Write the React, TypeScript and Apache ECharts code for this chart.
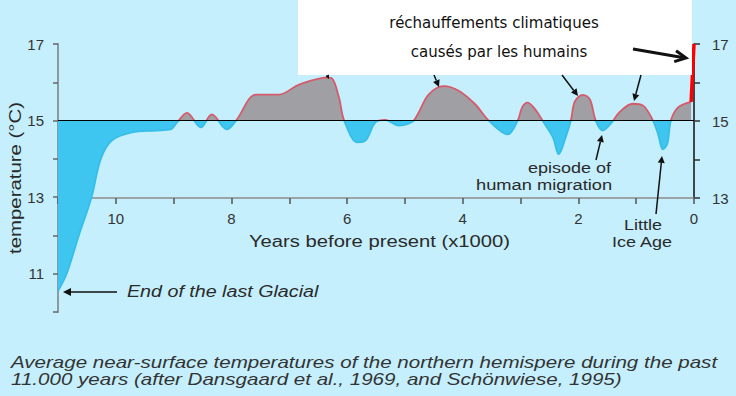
import { useEffect, useRef } from 'react';
import * as echarts from 'echarts';

// Years before present (x1000) and temperature (°C)
const years = [11.0, 10.85, 10.64, 10.42, 10.26, 10.07, 9.72, 9.31, 9.05, 8.94, 8.77, 8.53, 8.34, 8.08, 7.92, 7.57, 7.18, 6.83, 6.34, 6.26, 6.14, 6.05, 5.82, 5.68, 5.51, 5.34, 5.11, 4.87, 4.78, 4.59, 4.33, 4.07, 3.78, 3.55, 3.22, 3.05, 2.97, 2.88, 2.75, 2.62, 2.44, 2.34, 2.22, 2.13, 2.06, 1.92, 1.8, 1.7, 1.58, 1.42, 1.3, 1.06, 0.88, 0.71, 0.62, 0.54, 0.46, 0.4, 0.28, 0.05];
const temps = [10.55, 11.0, 12.0, 13.0, 14.0, 14.48, 14.69, 14.74, 14.77, 14.95, 15.2, 14.82, 15.16, 14.77, 15.0, 15.68, 15.68, 15.94, 16.12, 16.1, 15.6, 15.0, 14.43, 14.48, 14.95, 15.02, 14.87, 14.97, 15.16, 15.68, 15.9, 15.78, 15.42, 15.0, 14.64, 15.0, 15.35, 15.47, 15.3, 15.0, 14.56, 14.12, 14.56, 15.0, 15.5, 15.67, 15.55, 15.0, 14.74, 14.95, 15.2, 15.44, 15.39, 15.0, 14.64, 14.25, 14.4, 15.0, 15.34, 15.49];
const recentYears = [0.05, 0.0];
const recentTemps = [15.49, 17.0];
const baselineTemp = 15;

const FONT = '"Liberation Sans", Arial, sans-serif';
const INK = '#2a2a2a';

function arrow(x1: number, y1: number, x2: number, y2: number, w: number, head: number, open = false) {
  const a = Math.atan2(y2 - y1, x2 - x1);
  const bx = x2 - head * Math.cos(a);
  const by = y2 - head * Math.sin(a);
  const hw = head * 0.5;
  const px = -Math.sin(a) * hw;
  const py = Math.cos(a) * hw;
  const els: any[] = [
    { type: 'line', z: 50, shape: { x1, y1, x2: open ? x2 - 2 * Math.cos(a) : bx, y2: open ? y2 - 2 * Math.sin(a) : by }, style: { stroke: '#111', lineWidth: w } },
  ];
  if (open) {
    els.push({ type: 'polyline', z: 50, shape: { points: [[bx + px, by + py], [x2, y2], [bx - px, by - py]] }, style: { stroke: '#111', lineWidth: w, fill: null } });
  } else {
    els.push({ type: 'polygon', z: 50, shape: { points: [[x2, y2], [bx + px, by + py], [bx - px, by - py]] }, style: { fill: '#111' } });
  }
  return els;
}

function txt(text: string, x: number, y: number, size: number, opts: any = {}) {
  return {
    type: 'text',
    z: 50,
    x,
    y,
    scaleX: opts.scaleX ?? 1,
    rotation: opts.rotation ?? 0,
    style: {
      text,
      fill: opts.color ?? INK,
      font: `${opts.italic ? 'italic ' : ''}${size}px ${opts.family ?? FONT}`,
      textAlign: opts.align ?? 'left',
      textVerticalAlign: 'middle',
    },
  };
}

export default function App() {
  const ref = useRef<HTMLDivElement>(null);
  useEffect(() => {
    const chart = echarts.init(ref.current!, null, { renderer: 'svg' });
    const curve = years.map((y, i) => [y, temps[i]]);
    const recent = recentYears.map((y, i) => [y, recentTemps[i]]);
    const labelStyle = { color: '#333', fontFamily: FONT, fontSize: 15 };
    const option: any = {
      animation: false,
      backgroundColor: '#c5effc',
      grid: [
        { left: 58, right: 42, top: 44, bottom: 84 },
        { left: 58, right: 42, top: 44, height: 154 },
      ],
      xAxis: [
        { gridIndex: 0, type: 'value', min: 0, max: 11, inverse: true, show: false, axisLine: { onZero: false } },
        {
          gridIndex: 1, type: 'value', min: 0, max: 11, interval: 1, inverse: true,
          axisLine: { onZero: false, lineStyle: { color: '#8c8c8c', width: 1.5 } },
          axisTick: { length: 6, lineStyle: { color: '#555', width: 1.5 } },
          splitLine: { show: false },
          axisLabel: { ...labelStyle, margin: 13, formatter: (v: number) => (v % 2 === 0 ? String(v) : '') },
        },
      ],
      yAxis: [
        {
          gridIndex: 0, type: 'value', min: 10, max: 17, interval: 1,
          axisLine: { show: true, onZero: false, lineStyle: { color: '#8a9aa0', width: 2 } },
          axisTick: { show: true, length: 5, lineStyle: { color: '#666', width: 1.5 } },
          splitLine: { show: false },
          axisLabel: { ...labelStyle, margin: 14, formatter: (v: number) => (v % 2 === 1 ? String(v) : '') },
        },
        {
          gridIndex: 1, type: 'value', position: 'right', min: 13, max: 17, interval: 1,
          axisLine: { show: true, onZero: false, lineStyle: { color: '#111', width: 1.5 } },
          axisTick: { show: true, length: 6, lineStyle: { color: '#333', width: 1.5 } },
          splitLine: { show: false },
          axisLabel: { ...labelStyle, margin: 18, formatter: (v: number) => (v % 2 === 1 ? String(v) : '') },
        },
      ],
      visualMap: [
        {
          type: 'piecewise', show: false, dimension: 1, seriesIndex: 0,
          pieces: [{ min: 5, max: baselineTemp, color: '#3ec6f0' }, { min: baselineTemp, max: 20, color: '#a0a0a4' }],
        },
        {
          type: 'piecewise', show: false, dimension: 1, seriesIndex: 1,
          pieces: [{ min: 5, max: baselineTemp, color: '#36bde8' }, { min: baselineTemp, max: 20, color: '#d65a6a' }],
        },
      ],
      series: [
        {
          type: 'line', xAxisIndex: 0, yAxisIndex: 0, data: curve, smooth: 0.35, symbol: 'none',
          lineStyle: { width: 0 }, areaStyle: { origin: baselineTemp, opacity: 1 }, z: 2,
        },
        {
          type: 'line', xAxisIndex: 0, yAxisIndex: 0, data: curve, smooth: 0.35, symbol: 'none',
          lineStyle: { width: 1.8 }, z: 3,
          markLine: {
            silent: true, symbol: 'none', label: { show: false },
            lineStyle: { color: '#000', width: 1.2, type: 'solid' },
            data: [{ yAxis: baselineTemp }],
          },
        },
        {
          type: 'line', xAxisIndex: 0, yAxisIndex: 0, data: recent, symbol: 'none', clip: false,
          lineStyle: { color: '#ff0000', width: 3.5 }, z: 4,
        },
      ],
      graphic: [
        { type: 'rect', z: 40, shape: { x: 298, y: 0, width: 394, height: 75 }, style: { fill: '#ffffff' } },
        txt('réchauffements climatiques', 494, 23, 15, { family: '"DejaVu Sans", Verdana, sans-serif', align: 'center', color: '#111' }),
        txt('causés par les humains', 499, 52, 15, { family: '"DejaVu Sans", Verdana, sans-serif', align: 'center', color: '#111' }),
        ...arrow(633, 49, 686, 58, 3, 11, true),
        ...arrow(327, 75, 329, 79, 1.5, 4),
        ...arrow(434, 75, 439, 87, 1.5, 7),
        ...arrow(562, 75, 578, 96, 1.5, 7),
        ...arrow(641, 75, 634, 101, 1.5, 7),
        ...arrow(596, 160, 602, 135, 1.5, 7),
        ...arrow(656, 214, 662, 156, 1.5, 7),
        ...arrow(117, 292, 63, 292, 1.5, 8),
        txt('temperature (°C)', 15, 178, 17, { rotation: Math.PI / 2, align: 'center', scaleX: 1.2 }),
        txt('Years before present (x1000)', 249, 241, 16, { scaleX: 1.264 }),
        txt('End of the last Glacial', 127, 292, 16, { italic: true, scaleX: 1.23 }),
        txt('episode of', 528, 168, 15, { scaleX: 1.2 }),
        txt('human migration', 476, 185, 15, { scaleX: 1.22 }),
        txt('Little', 624, 225, 15, { scaleX: 1.2 }),
        txt('Ice Age', 612, 242, 15, { scaleX: 1.2 }),
        txt('Average near-surface temperatures of the northern hemispere during the past', 11, 362, 16, { italic: true, scaleX: 1.285, color: '#333' }),
        txt('11.000 years (after Dansgaard et al., 1969, and Schönwiese, 1995)', 11, 379, 16, { italic: true, scaleX: 1.285, color: '#333' }),
      ],
    };
    chart.setOption(option);
    return () => chart.dispose();
  }, []);
  return <div ref={ref} style={{ position: 'fixed', left: 0, top: 0, width: 736, height: 396 }} />;
}
